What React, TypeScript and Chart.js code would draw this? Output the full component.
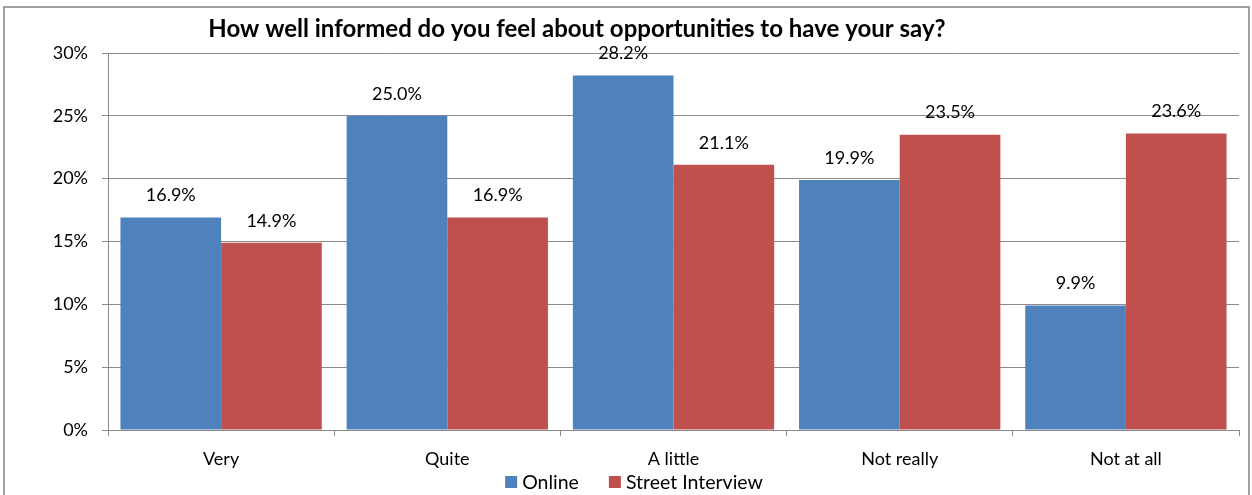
import React, { useEffect, useRef } from 'react';
import { Chart, registerables } from 'chart.js';

Chart.register(...registerables);

const categories = ['Very', 'Quite', 'A little', 'Not really', 'Not at all'];
const onlineValues = [16.9, 25.0, 28.2, 19.9, 9.9];
const streetValues = [14.9, 16.9, 21.1, 23.5, 23.6];
const seriesNames = ['Online', 'Street Interview'];
const seriesColors = ['#4F81BD', '#C0504D'];
const yMin = 0;
const yMax = 30;
const yStep = 5;
const chartTitle = 'How well informed do you feel about opportunities to have your say?';

const FONT = 'Lato, "Open Sans", sans-serif';
const GRID = '#8a8a8a';

const framePlugin = {
  id: 'frame',
  beforeDraw(chart: any) {
    const { ctx } = chart;
    ctx.save();
    ctx.strokeStyle = '#a0a0a0';
    ctx.lineWidth = 2;
    ctx.strokeRect(4, 7, 1245, 600);
    ctx.restore();
  },
};

const titlePlugin = {
  id: 'customTitle',
  afterDraw(chart: any) {
    const { ctx } = chart;
    ctx.save();
    ctx.font = `bold 24px ${FONT}`;
    ctx.fillStyle = '#000';
    ctx.textAlign = 'center';
    ctx.textBaseline = 'middle';
    ctx.fillText(chartTitle, 577, 29);
    ctx.restore();
  },
};

const dataLabelPlugin = {
  id: 'dataLabels',
  afterDatasetsDraw(chart: any) {
    const { ctx } = chart;
    ctx.save();
    ctx.font = `18px ${FONT}`;
    ctx.fillStyle = '#000';
    ctx.textAlign = 'center';
    ctx.textBaseline = 'middle';
    chart.data.datasets.forEach((ds: any, i: number) => {
      const meta = chart.getDatasetMeta(i);
      meta.data.forEach((bar: any, j: number) => {
        ctx.fillText(ds.data[j].toFixed(1) + '%', bar.x, bar.y - 22);
      });
    });
    ctx.restore();
  },
};

const legendPlugin = {
  id: 'customLegend',
  afterDraw(chart: any) {
    const { ctx } = chart;
    ctx.save();
    ctx.font = `19.5px ${FONT}`;
    ctx.textBaseline = 'middle';
    ctx.textAlign = 'left';
    const box = 12;
    const gapBox = 5;
    const gapItem = 30;
    const items = chart.data.datasets.map((ds: any) => ({
      label: ds.label,
      color: ds.backgroundColor,
      w: box + gapBox + ctx.measureText(ds.label).width,
    }));
    const total = items.reduce((s: number, it: any) => s + it.w, 0) + gapItem * (items.length - 1);
    let x = 634 - total / 2;
    const y = 482;
    items.forEach((it: any) => {
      ctx.fillStyle = it.color;
      ctx.fillRect(x, y - box / 2, box, box);
      ctx.fillStyle = '#000';
      ctx.fillText(it.label, x + box + gapBox, y + 1);
      x += it.w + gapItem;
    });
    ctx.restore();
  },
};

export default function App() {
  const canvasRef = useRef<HTMLCanvasElement>(null);

  useEffect(() => {
    document.body.style.margin = '0';
    const canvas = canvasRef.current;
    if (!canvas) return;
    const chart = new Chart(canvas, {
      type: 'bar',
      data: {
        labels: categories,
        datasets: [
          { label: seriesNames[0], data: onlineValues, backgroundColor: seriesColors[0], borderWidth: 0 },
          { label: seriesNames[1], data: streetValues, backgroundColor: seriesColors[1], borderWidth: 0 },
        ],
      },
      options: {
        animation: false,
        responsive: false,
        maintainAspectRatio: false,
        devicePixelRatio: 1,
        layout: { padding: { top: 53, right: 13, bottom: 0, left: 0 } },
        datasets: {
          bar: { categoryPercentage: 0.89, barPercentage: 1 },
        },
        plugins: {
          legend: { display: false },
          title: { display: false },
          tooltip: { enabled: false },
        },
        scales: {
          x: {
            grid: {
              display: true,
              drawOnChartArea: false,
              drawTicks: true,
              tickLength: 6,
              color: GRID,
              offset: true,
            },
            border: { display: true, color: GRID, width: 1 },
            ticks: {
              color: '#000',
              font: { family: FONT, size: 18 },
              padding: 12,
            },
            afterFit(scale: any) {
              scale.height = 65;
            },
          },
          y: {
            min: yMin,
            max: yMax,
            grid: {
              color: GRID,
              drawTicks: true,
              tickLength: 6,
            },
            border: { display: true, color: GRID, width: 1 },
            ticks: {
              stepSize: yStep,
              color: '#000',
              font: { family: FONT, size: 18 },
              padding: 14,
              callback: (v: any) => v + '%',
            },
            afterFit(scale: any) {
              scale.width = 108;
            },
          },
        },
      },
      plugins: [framePlugin, dataLabelPlugin, titlePlugin, legendPlugin],
    });
    return () => chart.destroy();
  }, []);

  return (
    <div style={{ width: 1252, height: 495 }}>
      <canvas ref={canvasRef} width={1252} height={495} style={{ display: 'block', width: 1252, height: 495 }} />
    </div>
  );
}
